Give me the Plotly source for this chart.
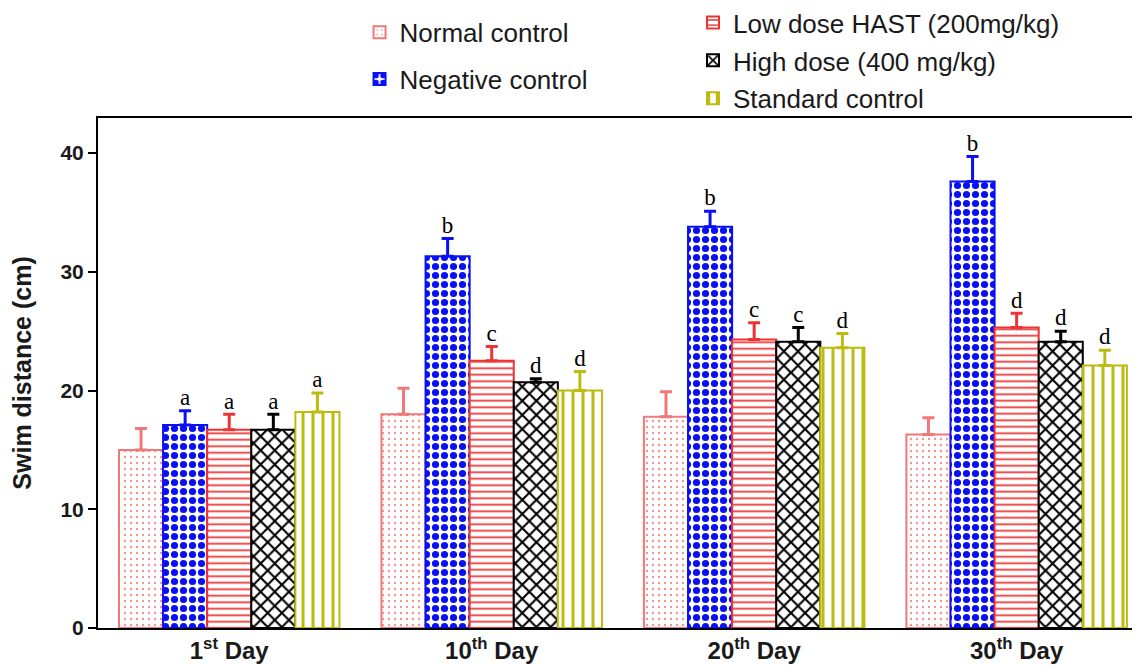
import plotly.graph_objects as go

days = ["1<sup>st</sup> Day", "10<sup>th</sup> Day", "20<sup>th</sup> Day", "30<sup>th</sup> Day"]
groups = ["Normal control", "Negative control", "Low dose HAST (200mg/kg)",
          "High dose (400 mg/kg)", "Standard control"]

normal = [15.0, 18.0, 17.8, 16.3]
normal_err = [1.8, 2.2, 2.1, 1.4]
negative = [17.1, 31.3, 33.8, 37.6]
negative_err = [1.2, 1.5, 1.3, 2.1]
low = [16.7, 22.5, 24.3, 25.3]
low_err = [1.3, 1.2, 1.4, 1.2]
high = [16.7, 20.7, 24.1, 24.1]
high_err = [1.3, 0.3, 1.2, 0.9]
standard = [18.2, 20.0, 23.6, 22.1]
standard_err = [1.6, 1.6, 1.2, 1.3]

normal_letters = ["", "", "", ""]
negative_letters = ["a", "b", "b", "b"]
low_letters = ["a", "c", "c", "d"]
high_letters = ["a", "d", "c", "d"]
standard_letters = ["a", "d", "d", "d"]

# name, values, errors, letters, colour, pattern shape, size, solidity, opacity, legend
series = [
    (groups[0], normal, normal_err, normal_letters, "#f07878", ".", 6, 0.12, 0.8, "legend"),
    (groups[1], negative, negative_err, negative_letters, "#0a10f5", ".", 9, 0.5, 1.0, "legend"),
    (groups[2], low, low_err, low_letters, "#ec3434", "-", 6.5, 0.27, 1.0, "legend2"),
    (groups[3], high, high_err, high_letters, "#000000", "x", 10, 0.38, 1.0, "legend2"),
    (groups[4], standard, standard_err, standard_letters, "#bcbc10", "|", 10, 0.3, 1.0, "legend2"),
]

fig = go.Figure()
for name, vals, errs, letters, col, shape, size, sol, op, leg in series:
    fig.add_trace(go.Bar(
        name=name, x=days, y=vals, offsetgroup=name,
        marker=dict(color="white", line=dict(color=col, width=2),
                    pattern=dict(shape=shape, fgcolor=col, bgcolor="white", fgopacity=op,
                                 size=size, solidity=sol, fillmode="overlay")),
        error_y=dict(type="data", array=errs, arrayminus=[0] * len(errs),
                     symmetric=False, color=col, thickness=3, width=6),
        legend=leg, legendgroup=name,
    ))

for name, vals, errs, letters, col, shape, size, sol, op, leg in series:
    fig.add_trace(go.Scatter(
        x=days, y=[v + e for v, e in zip(vals, errs)], text=letters,
        mode="text", textposition="top center", offsetgroup=name,
        textfont=dict(family="Liberation Serif", size=23, color="black"),
        showlegend=False, cliponaxis=False,
    ))

fig.update_layout(
    width=1132, height=659,
    margin=dict(l=90, r=0, t=110, b=39, autoexpand=False),
    plot_bgcolor="white", paper_bgcolor="white",
    barmode="group", bargap=0.16, bargroupgap=0,
    scattermode="group", scattergap=0.16,
    font=dict(family="Liberation Sans", color="#1a1a1a"),
    legend=dict(x=0.251, y=1.214, xanchor="left", yanchor="top",
                font=dict(size=26, family="Liberation Sans", color="#1a1a1a"),
                traceorder="grouped", tracegroupgap=10, bgcolor="rgba(0,0,0,0)"),
    legend2=dict(x=0.571, y=1.233, xanchor="left", yanchor="top",
                 font=dict(size=26, family="Liberation Sans", color="#1a1a1a"),
                 traceorder="grouped", tracegroupgap=1, bgcolor="rgba(0,0,0,0)"),
    xaxis=dict(range=[-0.5, 3.47], showline=True, linewidth=2, linecolor="black",
               mirror=True, ticks="", showgrid=False,
               tickfont=dict(size=24, family="Liberation Sans", color="#1a1a1a", weight="bold")),
    yaxis=dict(range=[0, 42.95], tickvals=[0, 10, 20, 30, 40], showline=True,
               linewidth=2, linecolor="black", ticks="outside", ticklen=8, tickwidth=2,
               tickcolor="black", showgrid=False, zeroline=False,
               tickfont=dict(size=21, family="Liberation Sans", color="#1a1a1a", weight="bold"),
               title=dict(text="Swim distance (cm)", standoff=26,
                          font=dict(size=25, family="Liberation Sans", color="#1a1a1a", weight="bold"))),
)

fig.write_html("out.html")
